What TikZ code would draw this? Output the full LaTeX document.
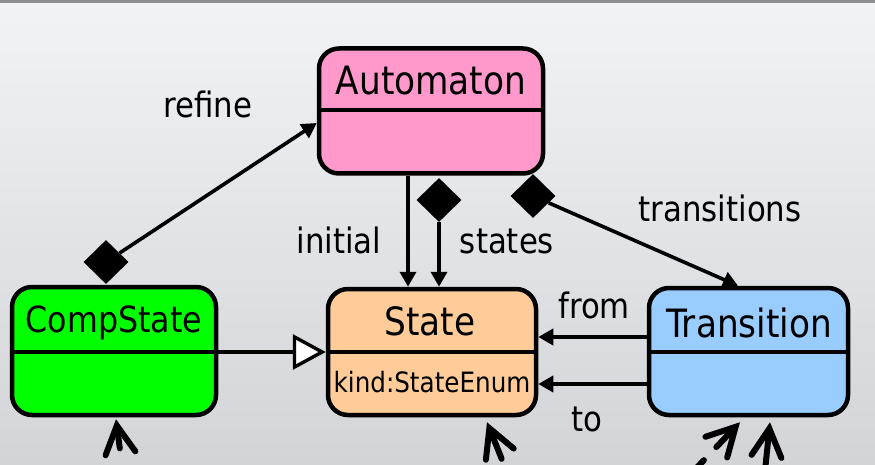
\documentclass[tikz,border=0pt]{standalone}
\usepackage{fontspec}
\setmainfont{DejaVu Sans}[FakeStretch=0.88]
\usetikzlibrary{arrows.meta,shapes.geometric,calc}
\definecolor{bgtop}{RGB}{242,243,245}
\definecolor{bgbot}{RGB}{210,212,216}
\definecolor{frameline}{RGB}{143,143,145}
\definecolor{autofill}{RGB}{255,153,204}
\definecolor{compfill}{RGB}{0,255,0}
\definecolor{statefill}{RGB}{255,204,153}
\definecolor{transfill}{RGB}{153,204,255}

\begin{document}
\begin{tikzpicture}[x=1pt,y=-1pt,
  classbox/.style={draw=black, line width=4.5pt, rounded corners=20pt, inner sep=0pt},
  divider/.style={line width=4.5pt},
  title/.style={anchor=base, inner sep=0pt, font=\fontsize{39}{39}\selectfont},
  smalltitle/.style={anchor=base, inner sep=0pt, font=\fontsize{36}{36}\selectfont},
  attr/.style={anchor=base, inner sep=0pt, font=\fontsize{28}{28}\selectfont},
  rolelabel/.style={anchor=base, inner sep=0pt, font=\fontsize{35}{35}\selectfont},
  assoc/.style={line width=3.6pt, -{Triangle[length=15pt,width=16pt]}},
  compmark/.style={diamond, fill=black, inner sep=0pt, minimum width=45pt, minimum height=44pt},
  inherit/.style={line width=3.6pt, -{Triangle[open, length=33pt, width=35pt, fill=white, line width=3.4pt]}},
  stub/.style={line width=6pt, line cap=round, {Straight Barb[length=28pt,width=30pt,line cap=round]}-}
]
\useasboundingbox (0,0) rectangle (875,465);
% backdrop
\shade[top color=bgtop, bottom color=bgbot] (0,0) rectangle (875,465);
\fill[frameline] (0,0) rectangle (875,3);

% classes
\node[classbox, fill=autofill, minimum width=224pt, minimum height=125pt] (auto) at (431,111) {};
\draw[divider] (auto.west |- 0,110) -- (auto.east |- 0,110);
\node[title] (autoname) at (431,95) {Automaton};

\node[classbox, fill=compfill, minimum width=204pt, minimum height=128pt] (comp) at (114,351) {};
\draw[divider] (comp.west |- 0,352) -- (comp.east |- 0,352);
\node[smalltitle] (compname) at (114,332) {CompState};

\node[classbox, fill=statefill, minimum width=208pt, minimum height=126pt] (state) at (432,352) {};
\draw[divider] (state.west |- 0,352) -- (state.east |- 0,352);
\node[title] (statename) at (430,335) {State};
\node[attr] (stateattr) at (432,392) {kind:StateEnum};

\node[classbox, fill=transfill, minimum width=199pt, minimum height=127pt] (trans) at (748.5,351.5) {};
\draw[divider] (trans.west |- 0,352) -- (trans.east |- 0,352);
\node[title] (transname) at (749,337) {Transition};

% associations
\node[compmark] (dref) at (106,262) {};
\draw[assoc] (dref) -- (auto.west |- 0,123);
\draw[assoc] (auto.south -| 408,0) -- (state.north -| 408,0);
\node[compmark] (dstates) at (439,200) {};
\draw[assoc] (dstates) -- (state.north -| 439,0);
\node[compmark] (dtrans) at (533,196) {};
\draw[assoc] (dtrans) -- (trans.north -| 738,0);
\draw[inherit] (comp.east |- 0,352) -- (state.west |- 0,352);
\draw[assoc] (trans.west |- 0,337) -- (state.east |- 0,337);
\draw[assoc] (trans.west |- 0,384) -- (state.east |- 0,384);

% role names
\node[rolelabel] (lrefine) at (208,118) {refine};
\node[rolelabel] (linitial) at (339,253) {initial};
\node[rolelabel] (lstates) at (507,253) {states};
\node[rolelabel] (ltrans) at (720,222) {transitions};
\node[rolelabel] (lfrom) at (594,318) {from};
\node[rolelabel] (lto) at (587,431) {to};

% links entering from below
\begin{scope}
\clip (0,0) rectangle (875,465);
\coordinate (s1) at (125,488);
\coordinate (s2) at (513,487);
\coordinate (s3) at (685,480);
\coordinate (s4) at (763,490);
\draw[stub, dash pattern=on 20pt off 23pt on 40pt off 60pt] ($(comp.south -| 116,0)+(0,2)$) -- (s1);
\draw[stub, dash pattern=on 30pt off 100pt] ($(state.south -| 487,0)+(0,5)$) -- (s2);
\draw[stub, dash pattern=on 25pt off 18pt on 40pt off 50pt] ($(trans.south -| 740,0)+(0,5)$) -- (s3);
\draw[stub, dash pattern=on 40pt off 100pt] ($(trans.south -| 770,0)+(0,5)$) -- (s4);
\end{scope}
\end{tikzpicture}
\end{document}
